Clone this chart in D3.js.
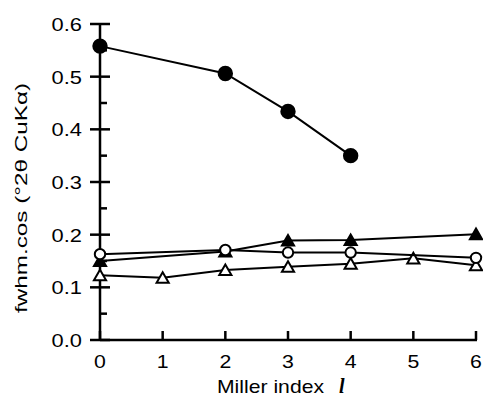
<!DOCTYPE html>
<html>
<head>
<meta charset="utf-8">
<script src="https://cdn.jsdelivr.net/npm/d3@7"></script>
<style>
body { margin: 0; background: #fff; }
svg text { font-family: "Liberation Sans", Arial, sans-serif; fill: #000; }
</style>
</head>
<body>
<svg id="chart" width="483" height="397"></svg>
<script>
// values
var xTicks = [0, 1, 2, 3, 4, 5, 6];
var yTicks = [0.0, 0.1, 0.2, 0.3, 0.4, 0.5, 0.6];
var filledCircleX = [0, 2, 3, 4];
var filledCircleY = [0.558, 0.506, 0.434, 0.350];
var filledTriX = [0, 2, 3, 4, 6];
var filledTriY = [0.150, 0.168, 0.189, 0.190, 0.201];
var openCircleX = [0, 2, 3, 4, 6];
var openCircleY = [0.163, 0.171, 0.166, 0.166, 0.156];
var openTriX = [0, 1, 2, 3, 4, 5, 6];
var openTriY = [0.123, 0.118, 0.133, 0.139, 0.145, 0.155, 0.142];

var margin = {left: 100, top: 24, right: 7, bottom: 57};
var width = 483 - margin.left - margin.right,
    height = 397 - margin.top - margin.bottom;

var svg = d3.select("#chart");
var g = svg.append("g").attr("transform", "translate(" + margin.left + "," + margin.top + ")");

var x = d3.scaleLinear().domain([0, 6]).range([0, width]);
var y = d3.scaleLinear().domain([0, 0.6]).range([height, 0]);

// y axis: major ticks cross the line, minor ticks inside
var yAxis = g.append("g").attr("class", "yaxis");
yAxis.append("line").attr("x1", 0).attr("x2", 0).attr("y1", y(0.6)).attr("y2", y(0) + 1)
    .attr("stroke", "#000").attr("stroke-width", 2.5);
yAxis.selectAll("line.major").data(yTicks).enter().append("line").attr("class", "major")
    .attr("x1", -10).attr("x2", 10)
    .attr("y1", function (d) { return y(d); }).attr("y2", function (d) { return y(d); })
    .attr("stroke", "#000").attr("stroke-width", 2.5);
yAxis.selectAll("line.minor").data(yTicks.slice(0, -1)).enter().append("line").attr("class", "minor")
    .attr("x1", 0).attr("x2", 7)
    .attr("y1", function (d) { return y(d + 0.05); }).attr("y2", function (d) { return y(d + 0.05); })
    .attr("stroke", "#000").attr("stroke-width", 2.5);
yAxis.selectAll("text").data(yTicks).enter().append("text")
    .attr("transform", function (d) { return "translate(-18," + y(d) + ") scale(1.15,1)"; })
    .attr("dy", "0.36em")
    .attr("text-anchor", "end").style("font-size", "19px")
    .text(function (d) { return d.toFixed(1); });

// x axis
var xAxis = g.append("g").attr("class", "xaxis");
xAxis.append("line").attr("x1", 0).attr("x2", x(6) + 1).attr("y1", height).attr("y2", height)
    .attr("stroke", "#000").attr("stroke-width", 2.5);
xAxis.selectAll("line.tick").data(xTicks).enter().append("line").attr("class", "tick")
    .attr("x1", function (d) { return x(d); }).attr("x2", function (d) { return x(d); })
    .attr("y1", height).attr("y2", height - 9)
    .attr("stroke", "#000").attr("stroke-width", 2.5);
xAxis.selectAll("text").data(xTicks).enter().append("text")
    .attr("transform", function (d) { return "translate(" + x(d) + "," + (height + 27.5) + ") scale(1.12,1)"; })
    .attr("text-anchor", "middle").style("font-size", "19px")
    .text(function (d) { return d; });

// axis titles
svg.append("text").attr("x", 217).attr("y", 393)
    .attr("textLength", 107).attr("lengthAdjust", "spacingAndGlyphs")
    .style("font-size", "19px").text("Miller index");
svg.append("text").attr("x", 339).attr("y", 393)
    .style("font-family", "'Liberation Serif', serif").style("font-style", "italic")
    .style("font-weight", "bold").style("font-size", "20px").text("l");

svg.append("text").attr("transform", "translate(26.5,198) rotate(-90)")
    .attr("text-anchor", "middle").style("font-size", "17px")
    .attr("textLength", 230).attr("lengthAdjust", "spacingAndGlyphs")
    .text("fwhm.cos (°2θ CuKα)");

var line = d3.line().x(function (d) { return x(d[0]); }).y(function (d) { return y(d[1]); });
var tri = d3.symbol().type(d3.symbolTriangle).size(64);

function series(xs, ys, shape, fill) {
    var pts = xs.map(function (v, i) { return [v, ys[i]]; });
    var s = g.append("g");
    s.append("path").datum(pts).attr("d", line)
        .attr("fill", "none").attr("stroke", "#000").attr("stroke-width", 2);
    if (shape === "circle") {
        s.selectAll("circle").data(pts).enter().append("circle")
            .attr("cx", function (d) { return x(d[0]); }).attr("cy", function (d) { return y(d[1]); })
            .attr("r", fill === "#000" ? 6.7 : 5.2)
            .attr("fill", fill).attr("stroke", "#000").attr("stroke-width", 2);
    } else {
        s.selectAll("path.m").data(pts).enter().append("path").attr("class", "m")
            .attr("d", tri)
            .attr("transform", function (d) { return "translate(" + x(d[0]) + "," + (y(d[1]) + 1.5) + ")"; })
            .attr("fill", fill).attr("stroke", "#000").attr("stroke-width", 2);
    }
}

series(openTriX, openTriY, "triangle", "#fff");
series(filledTriX, filledTriY, "triangle", "#000");
series(openCircleX, openCircleY, "circle", "#fff");
series(filledCircleX, filledCircleY, "circle", "#000");
</script>
</body>
</html>
